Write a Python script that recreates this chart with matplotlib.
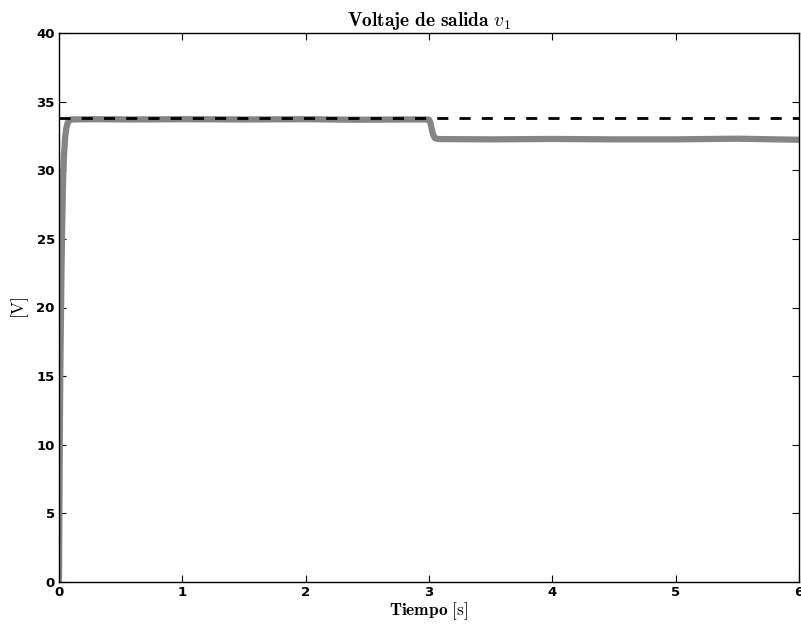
import matplotlib
matplotlib.use("Agg")
import matplotlib.pyplot as plt

plt.rcParams['mathtext.fontset'] = 'cm'

t_meas = [0.0, 0.004, 0.008, 0.012, 0.016, 0.02, 0.025, 0.03, 0.035, 0.04, 0.05, 0.06,
          0.07, 0.08, 0.1, 0.3, 0.6, 1.0, 1.5, 2.0, 2.4, 2.8, 2.99, 3.0, 3.01, 3.02,
          3.03, 3.04, 3.05, 3.07, 3.1, 3.5, 4.0, 4.5, 5.0, 5.5, 6.0]
v_meas = [0.0, 6.5, 12.5, 16.5, 19.5, 22.5, 25.5, 28.0, 29.8, 31.0, 32.4, 33.1,
          33.45, 33.6, 33.7, 33.72, 33.7, 33.72, 33.7, 33.72, 33.68, 33.7, 33.7, 33.68, 33.5, 33.1,
          32.7, 32.45, 32.33, 32.28, 32.27, 32.25, 32.28, 32.25, 32.25, 32.3, 32.22]

# Reference voltage
t_ref = [0.0, 6.0]
v_ref = [33.8, 33.8]

xticks = [0, 1, 2, 3, 4, 5, 6]
yticks = [0, 5, 10, 15, 20, 25, 30, 35, 40]

fig = plt.figure(figsize=(8.01, 6.28), dpi=100)
ax = fig.add_axes([59/801, 1-582/628, (799-59)/801, (582-33)/628])

ax.plot(t_meas, v_meas, color='#858585', lw=4.5, solid_capstyle='butt', zorder=2)
ax.plot(t_ref, v_ref, color='black', lw=2.0, ls=(0, (4, 4)), zorder=3)

ax.set_xlim(0, 6)
ax.set_ylim(0, 40)
ax.set_xticks(xticks)
ax.set_yticks(yticks)
ax.set_xticklabels([str(v) for v in xticks], fontsize=9.5, fontweight='bold', family='DejaVu Sans')
ax.set_yticklabels([str(v) for v in yticks], fontsize=9.5, fontweight='bold', family='DejaVu Sans')
ax.tick_params(direction='in', top=True, right=True, length=5, width=0.8, pad=3)
for s in ax.spines.values():
    s.set_linewidth(1.0)

ax.set_title(r'$\mathbf{Voltaje\ de\ salida}\ v_1$', fontsize=14, pad=5)
ax.set_xlabel(r'$\mathbf{Tiempo}\ [\mathrm{s}]$', fontsize=12.5, labelpad=1)
ax.set_ylabel(r'$[\mathrm{V}]$', fontsize=12.5, labelpad=4)

fig.savefig('out.png', dpi=100)
